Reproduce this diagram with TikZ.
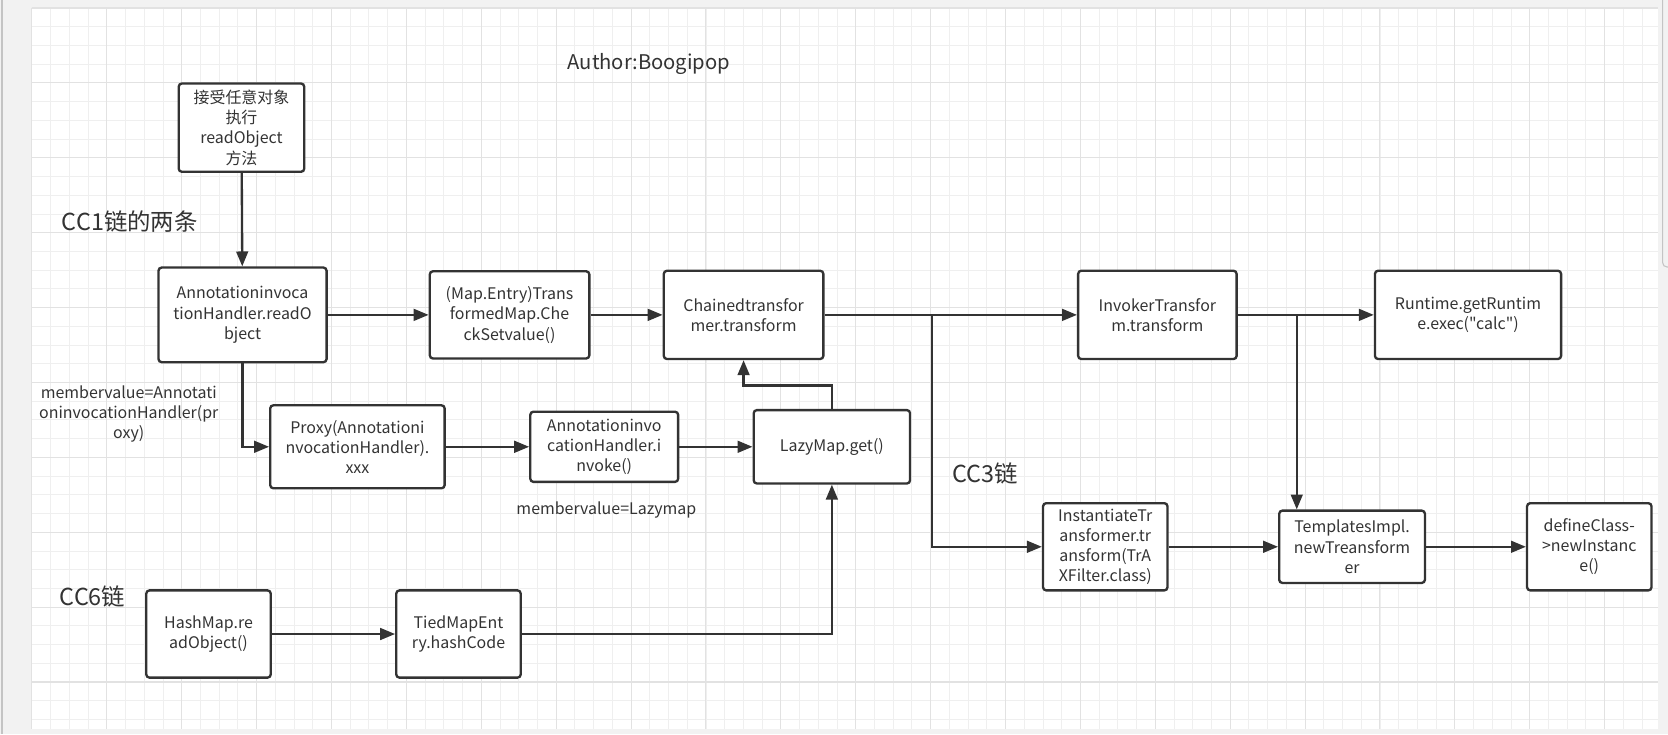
\documentclass[tikz,border=0pt]{standalone}
\usepackage{fontspec}
\setmainfont{Noto Sans CJK SC}[Ligatures=TeXOff]
\usetikzlibrary{arrows.meta}
\definecolor{tinta}{HTML}{333333}
\definecolor{fondo}{HTML}{F2F2F2}
\definecolor{rejillaA}{HTML}{EFEFEF}
\definecolor{rejillaB}{HTML}{E2E2E2}
\definecolor{borde}{HTML}{C4C4C4}

\begin{document}
\begin{tikzpicture}[x=1pt, y=-1pt,
        caja/.style={draw=tinta, line width=2.2pt, rounded corners=3pt, fill=white, align=center, text=tinta, inner sep=0pt, font=\fontsize{15}{19}\selectfont},
        flecha/.style={draw=tinta, line width=2.2pt, -{Triangle[length=14pt,width=11pt]}},
        titulo/.style={text=tinta, font=\fontsize{22}{26}\selectfont},
        nota/.style={text=tinta, align=center, font=\fontsize{15}{19}\selectfont}
    ]
    \useasboundingbox (0,0) rectangle (1568,690);

    % --- FONDO Y REJILLA ---
    \fill[fondo] (0,0) rectangle (1568,690);
    \fill[white] (30,7.5) rectangle (1559,685);
    \foreach \i in {0,...,86}
        \draw[rejillaA, line width=0.8pt] ({30+17.6*\i},7.5) -- ({30+17.6*\i},685);
    \foreach \j in {0,...,38}
        \draw[rejillaA, line width=0.8pt] (30,{7.5+17.6*\j}) -- (1559,{7.5+17.6*\j});
    \foreach \i in {0,...,21}
        \draw[rejillaB, line width=1pt] ({30+70.4*\i},7.5) -- ({30+70.4*\i},685);
    \foreach \j in {0,...,9}
        \draw[rejillaB, line width=1pt] (30,{7.5+70.4*\j}) -- (1559,{7.5+70.4*\j});
    \draw[borde, line width=2pt] (2,0) -- (2,690);
    \draw[borde, line width=1pt, rounded corners=4pt] (1563,0) -- (1563,251) -- (1570,251);

    % --- TEXTOS ---
    \node[text=tinta, font=\fontsize{19}{23}\selectfont] (autor) at (610,60) {Author:Boogipop};
    \node[titulo] (cc1) at (122,208) {CC1链的两条};
    \node[titulo] (cc3) at (926,445) {CC3链};
    \node[titulo] (cc6) at (87,561) {CC6链};
    \node[nota] (nota1) at (121,389) {membervalue=Annotati\\oninvocationHandler(pr\\oxy)};
    \node[nota] (nota2) at (570,479) {membervalue=Lazymap};

    % --- CADENA CC1 ---
    \node[caja, minimum width=118, minimum height=83] (entrada) at (227,120) {接受任意对象\\执行\\readObject\\方法};
    \node[caja, minimum width=158, minimum height=89] (aihRead) at (228,296) {Annotationinvoca\\tionHandler.readO\\bject};
    \node[caja, minimum width=150, minimum height=82] (transMap) at (479,296) {(Map.Entry)Trans\\formedMap.Che\\ckSetvalue()};
    \node[caja, minimum width=150, minimum height=83] (chained) at (699,296) {Chainedtransfor\\mer.transform};
    \node[caja, minimum width=149, minimum height=83] (invoker) at (1088,296) {InvokerTransfor\\m.transform};
    \node[caja, minimum width=175, minimum height=83] (runtime) at (1380,296) {Runtime.getRuntim\\e.exec("calc")};

    \node[caja, minimum width=164, minimum height=78] (proxy) at (336,420) {Proxy(Annotationi\\nvocationHandler).\\xxx};
    \node[caja, minimum width=139, minimum height=66] (aihInvoke) at (568,420) {Annotationinvo\\cationHandler.i\\nvoke()};
    \node[caja, minimum width=147, minimum height=69] (lazyGet) at (782,420) {LazyMap.get()};

    % --- CADENA CC6 ---
    \node[caja, minimum width=117, minimum height=82] (hashMap) at (196,596) {HashMap.re\\adObject()};
    \node[caja, minimum width=117, minimum height=82] (tied) at (431,596) {TiedMapEnt\\ry.hashCode};

    % --- CADENA CC3 ---
    \node[caja, minimum width=117, minimum height=82] (instTrans) at (1039,514) {InstantiateTr\\ansformer.tr\\ansform(TrA\\XFilter.class)};
    \node[caja, minimum width=137, minimum height=68] (templates) at (1271,514) {TemplatesImpl.\\newTreansform\\er};
    \node[caja, minimum width=117, minimum height=82] (define) at (1494,514) {defineClass-\\>newInstanc\\e()};

    \coordinate (j1) at (876,296);
    \coordinate (j2) at (1219,296);

    % --- FLECHAS ---
    \draw[flecha] (entrada) -- (aihRead);
    \draw[flecha] (aihRead) -- (transMap);
    \draw[flecha] (transMap) -- (chained);
    \draw[flecha] (chained) -- (invoker);
    \draw[flecha] (invoker) -- (runtime);
    \draw[flecha] (aihRead.south) |- (proxy);
    \draw[flecha] (proxy) -- (aihInvoke);
    \draw[flecha] (aihInvoke) -- (lazyGet);
    \draw[flecha] (lazyGet.north) -- ++(0,-22) -| (chained.south);
    \draw[flecha] (hashMap) -- (tied);
    \draw[flecha] (tied) -| (lazyGet.south);
    \draw[flecha] (j1) |- (instTrans);
    \draw[flecha] (j2) -- (j2 |- templates.north);
    \draw[flecha] (instTrans) -- (templates);
    \draw[flecha] (templates) -- (define);
\end{tikzpicture}
\end{document}
